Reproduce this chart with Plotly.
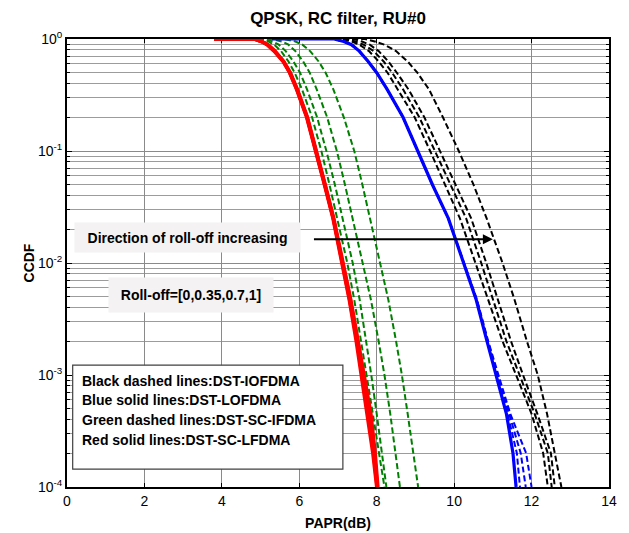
import plotly.graph_objects as go

# CCDF levels shared by every curve (first two points form the flat part at 1)
ccdf = [1.0, 1.0, 0.95, 0.89, 0.78, 0.63, 0.5, 0.355, 0.2, 0.1, 0.05, 0.025,
        0.01, 4.7e-3, 2e-3, 1e-3, 4.5e-4, 2e-4, 1e-4]

# PAPR (dB) at each CCDF level, four roll-off factors per scheme
papr_sc_lfdma = [
    [3.8, 4.84, 5.02, 5.17, 5.35, 5.58, 5.75, 5.93, 6.19, 6.43, 6.65, 6.87, 7.10, 7.29, 7.47, 7.60, 7.76, 7.90, 8.00],
    [3.8, 4.85, 5.03, 5.18, 5.36, 5.59, 5.76, 5.94, 6.20, 6.44, 6.66, 6.88, 7.12, 7.32, 7.51, 7.66, 7.83, 7.94, 8.02],
    [3.8, 4.86, 5.04, 5.19, 5.37, 5.60, 5.77, 5.95, 6.21, 6.45, 6.67, 6.89, 7.13, 7.33, 7.52, 7.67, 7.85, 7.96, 8.03],
    [3.8, 4.85, 5.03, 5.18, 5.36, 5.59, 5.76, 5.94, 6.20, 6.44, 6.66, 6.88, 7.11, 7.30, 7.49, 7.62, 7.79, 7.92, 8.01],
]
papr_sc_ifdma = [
    [4.7, 5.00, 5.20, 5.35, 5.53, 5.72, 5.88, 6.07, 6.33, 6.57, 6.78, 6.98, 7.24, 7.42, 7.60, 7.75, 7.90, 8.06, 8.20],
    [4.7, 5.10, 5.32, 5.47, 5.65, 5.85, 6.02, 6.20, 6.46, 6.70, 6.92, 7.12, 7.38, 7.56, 7.73, 7.86, 8.00, 8.13, 8.25],
    [4.7, 5.30, 5.55, 5.72, 5.90, 6.10, 6.27, 6.45, 6.72, 6.97, 7.18, 7.38, 7.65, 7.85, 8.05, 8.20, 8.35, 8.48, 8.60],
    [4.7, 5.60, 5.90, 6.08, 6.28, 6.50, 6.68, 6.88, 7.15, 7.42, 7.63, 7.83, 8.10, 8.30, 8.50, 8.65, 8.80, 8.95, 9.07],
]
papr_lofdma = [
    [5.3, 6.90, 7.15, 7.35, 7.55, 7.78, 8.00, 8.27, 8.68, 9.05, 9.44, 9.85, 10.25, 10.57, 10.85, 11.09, 11.35, 11.52, 11.60],
    [5.3, 6.90, 7.15, 7.35, 7.55, 7.78, 8.00, 8.27, 8.68, 9.05, 9.44, 9.85, 10.25, 10.57, 10.86, 11.10, 11.38, 11.62, 11.70],
    [5.3, 6.90, 7.15, 7.35, 7.55, 7.78, 8.00, 8.27, 8.68, 9.05, 9.44, 9.85, 10.25, 10.58, 10.87, 11.12, 11.42, 11.72, 11.85],
    [5.3, 6.90, 7.15, 7.35, 7.55, 7.78, 8.00, 8.27, 8.68, 9.05, 9.44, 9.85, 10.26, 10.59, 10.88, 11.14, 11.45, 11.86, 12.00],
]
papr_iofdma = [
    [6.9, 7.10, 7.35, 7.55, 7.80, 8.05, 8.28, 8.54, 8.98, 9.38, 9.77, 10.15, 10.55, 10.87, 11.25, 11.60, 12.00, 12.30, 12.42],
    [6.9, 7.20, 7.45, 7.66, 7.92, 8.18, 8.40, 8.68, 9.10, 9.50, 9.90, 10.31, 10.70, 11.00, 11.35, 11.69, 12.08, 12.42, 12.52],
    [6.9, 7.40, 7.62, 7.82, 8.05, 8.30, 8.52, 8.82, 9.23, 9.63, 10.04, 10.44, 10.83, 11.13, 11.47, 11.78, 12.15, 12.50, 12.60],
    [6.9, 7.70, 7.95, 8.20, 8.50, 8.80, 9.05, 9.35, 9.71, 10.12, 10.50, 10.84, 11.25, 11.56, 11.88, 12.16, 12.40, 12.60, 12.77],
]

x_ticks = [0, 2, 4, 6, 8, 10, 12, 14]
y_ticks = [1e-4, 1e-3, 1e-2, 1e-1, 1]
y_tick_text = ["10<sup>-4</sup>", "10<sup>-3</sup>", "10<sup>-2</sup>", "10<sup>-1</sup>", "10<sup>0</sup>"]

legend_lines = [
    "Black dashed lines:DST-IOFDMA",
    "Blue solid lines:DST-LOFDMA",
    "Green dashed lines:DST-SC-IFDMA",
    "Red solid lines:DST-SC-LFDMA",
]

FONT = "Liberation Sans, Arial, sans-serif"

fig = go.Figure()

for xs in papr_iofdma:
    fig.add_trace(go.Scatter(x=xs, y=ccdf, mode="lines",
                             line=dict(color="black", width=2, dash="6px,3px")))
for xs in papr_sc_ifdma:
    fig.add_trace(go.Scatter(x=xs, y=ccdf, mode="lines",
                             line=dict(color="#008000", width=2, dash="6px,3px")))
# blue variants first, the solid blue curve on top of them
for xs in papr_lofdma[1:]:
    fig.add_trace(go.Scatter(x=xs, y=ccdf, mode="lines",
                             line=dict(color="#0000ff", width=2, dash="6px,3px")))
fig.add_trace(go.Scatter(x=papr_lofdma[0], y=ccdf, mode="lines",
                         line=dict(color="#0000ff", width=3.2)))
for xs in papr_sc_lfdma:
    fig.add_trace(go.Scatter(x=xs, y=ccdf, mode="lines",
                             line=dict(color="#ff0000", width=3.5)))

fig.update_layout(
    width=629, height=533,
    margin=dict(l=67, r=20, t=39, b=46),
    paper_bgcolor="white", plot_bgcolor="white",
    showlegend=False,
    font=dict(family=FONT, size=14, color="black"),
    title=dict(text="<b>QPSK, RC filter, RU#0</b>", x=0.5, xref="paper",
               y=1 - 18 / 533, yref="container", xanchor="center", yanchor="middle",
               font=dict(family=FONT, size=17, color="black")),
)

fig.update_xaxes(
    range=[0, 14], tickvals=x_ticks, ticks="inside", ticklen=4, tickcolor="black",
    showline=True, linecolor="black", linewidth=2, mirror="ticks",
    showgrid=True, gridcolor="#8a8a8a", gridwidth=1, zeroline=False,
    layer="below traces", automargin=False,
    title=dict(text="<b>PAPR(dB)</b>", standoff=10, font=dict(family=FONT, size=14)),
    tickfont=dict(family=FONT, size=14),
)
fig.update_yaxes(
    type="log", range=[-4, 0], tickvals=y_ticks, ticktext=y_tick_text,
    ticks="inside", ticklen=5, tickcolor="black",
    showline=True, linecolor="black", linewidth=2, mirror="ticks",
    showgrid=True, gridcolor="#8a8a8a", gridwidth=1, zeroline=False,
    layer="below traces", automargin=False,
    minor=dict(dtick="D1", ticks="inside", ticklen=3, tickcolor="black",
               showgrid=True, gridcolor="#9c9c9c", gridwidth=1),
    title=dict(text="<b>CCDF</b>", standoff=0, font=dict(family=FONT, size=14)),
    tickfont=dict(family=FONT, size=14),
)

# Legend-style text box in the lower-left corner
fig.add_shape(type="rect", xref="paper", yref="paper",
              x0=0.0105, x1=0.509, y0=0.040, y1=0.272,
              line=dict(color="#404040", width=1.2), fillcolor="white", layer="above")
legend_y = [0.2366, 0.194, 0.1496, 0.105]
for txt, yy in zip(legend_lines, legend_y):
    fig.add_annotation(text="<b>" + txt + "</b>", xref="paper", yref="paper",
                       x=0.024, y=yy, xanchor="left", yanchor="middle",
                       showarrow=False, font=dict(family=FONT, size=14, color="black"))

# Roll-off direction label and arrow
fig.add_annotation(text="<b>Direction of roll-off increasing</b>", xref="paper", yref="paper",
                   x=(187.5 - 67) / 542, y=(487 - 237.5) / 448, xanchor="center", yanchor="middle",
                   showarrow=False, bgcolor="#f4f2f2", width=221, height=25, borderpad=2,
                   font=dict(family=FONT, size=14, color="black"))
fig.add_annotation(x=11.0, y=-1.787, ax=6.34, ay=-1.787, xref="x", yref="y",
                   axref="x", ayref="y", text="", showarrow=True,
                   arrowhead=2, arrowsize=1, arrowwidth=2, arrowcolor="black")
fig.add_annotation(text="<b>Roll-off=[0,0.35,0.7,1]</b>", xref="paper", yref="paper",
                   x=(191 - 67) / 542, y=(487 - 295) / 448, xanchor="center", yanchor="middle",
                   showarrow=False, bgcolor="#f4f2f2", width=160, height=30, borderpad=2,
                   font=dict(family=FONT, size=14, color="black"))

fig.write_html("out.html")
